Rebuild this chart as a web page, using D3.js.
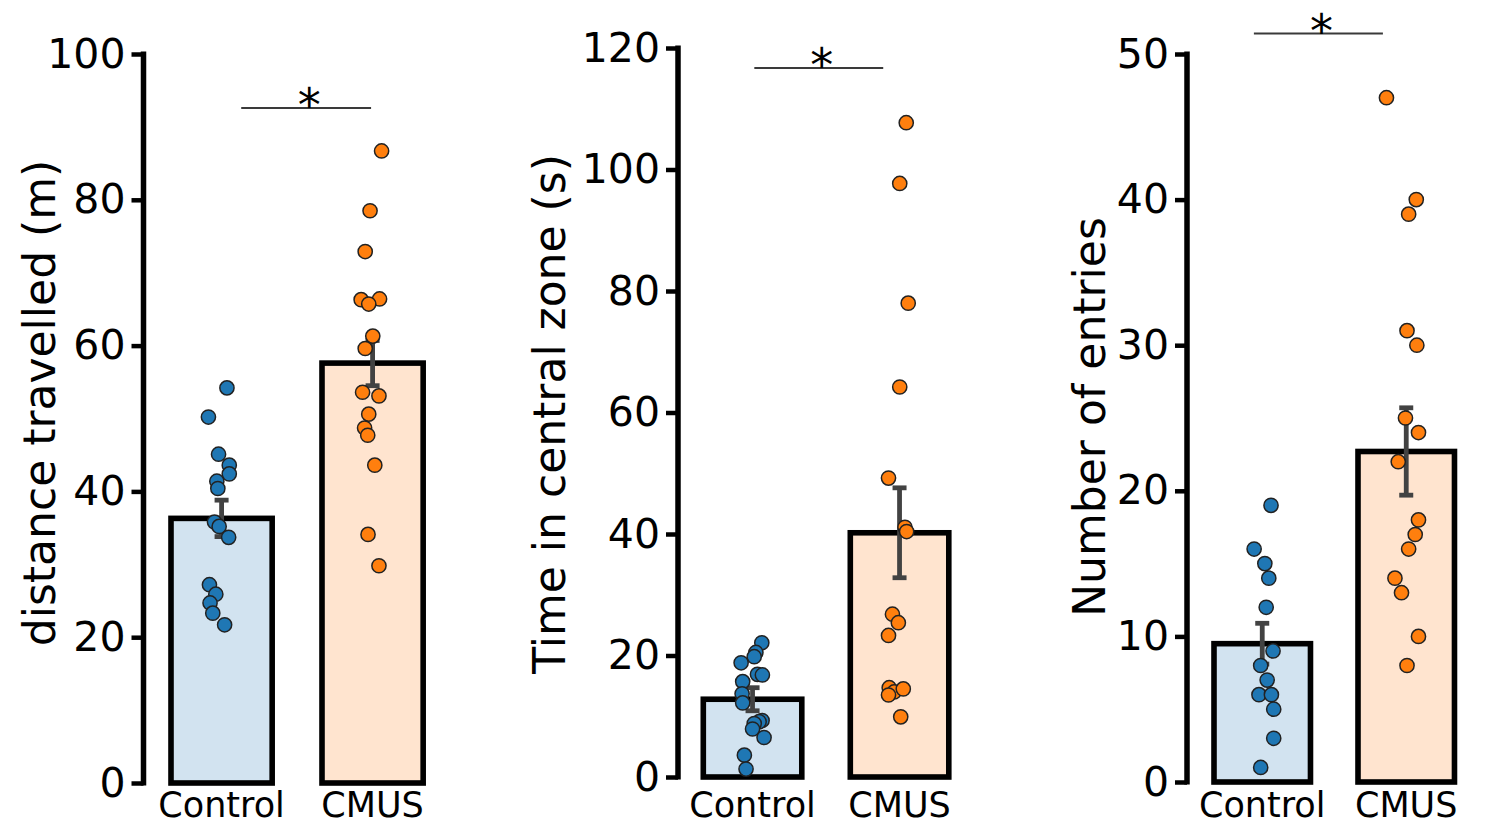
<!DOCTYPE html>
<html>
<head>
<meta charset="utf-8">
<script src="https://cdn.jsdelivr.net/npm/d3@7"></script>
<style>
  html, body { margin: 0; padding: 0; background: #fff; }
  svg text { font-family: "DejaVu Sans", sans-serif; fill: #000; }
</style>
</head>
<body>
<svg id="chart" width="1485" height="826"></svg>
<script>
// ---- data ----
const categories = ["Control", "CMUS"];

// distance travelled (m)
const distanceControl = [54.2, 50.2, 45.1, 43.6, 42.4, 41.4, 40.4, 35.8, 35.2, 33.7, 27.2, 25.9, 24.7, 23.3, 21.7];
const distanceCMUS    = [86.7, 78.5, 72.9, 66.3, 66.4, 65.7, 61.3, 59.6, 53.6, 53.1, 50.6, 48.7, 47.7, 43.6, 34.1, 29.8];
const distanceMean = [36.3, 57.6];
const distanceSem  = [2.5, 3.1];

// time in central zone (s)
const timeControl = [22.1, 20.5, 19.8, 18.8, 16.9, 16.8, 15.7, 13.7, 12.2, 9.3, 9.1, 8.8, 7.9, 6.5, 3.6, 1.3];
const timeCMUS    = [107.7, 97.7, 78.0, 64.2, 49.2, 41.1, 40.4, 26.8, 25.4, 23.3, 14.7, 14.0, 14.5, 13.5, 9.9];
const timeMean = [12.8, 40.2];
const timeSem  = [1.9, 7.4];

// number of entries
const entriesControl = [19, 16, 15, 14, 12, 9, 8, 7, 6, 6, 5, 3, 1];
const entriesCMUS    = [47, 40, 39, 31, 30, 25, 24, 22, 18, 17, 16, 14, 13, 10, 8];
const entriesMean = [9.5, 22.7];
const entriesSem  = [1.4, 3.0];

// y-axis ticks
const distanceTicks = [0, 20, 40, 60, 80, 100];
const timeTicks     = [0, 20, 40, 60, 80, 100, 120];
const entriesTicks  = [0, 10, 20, 30, 40, 50];

// significance bracket heights (data units)
const distanceSig = 92.6;
const timeSig     = 116.7;
const entriesSig  = 51.4;

// horizontal strip jitter, as a fraction of bar width
const distanceJitter = [
  [0.053, -0.13, -0.03, 0.076, 0.076, -0.047, -0.037, -0.07, -0.024, 0.07, -0.12, -0.057, -0.114, -0.087, 0.03],
  [0.089, -0.025, -0.073, -0.113, 0.069, -0.038, 0.002, -0.073, -0.099, 0.063, -0.038, -0.079, -0.048, 0.022, -0.045, 0.063]
];
const timeJitter = [
  [0.094, 0.034, 0.017, -0.116, 0.05, 0.1, -0.1, -0.106, -0.1, 0.097, 0.067, 0.017, 0.0, 0.117, -0.083, -0.066],
  [0.068, 0.002, 0.088, 0.002, -0.112, 0.055, 0.072, -0.072, -0.012, -0.112, -0.105, -0.055, 0.038, -0.112, 0.012]
];
const entriesJitter = [
  [0.091, -0.084, 0.027, 0.068, 0.041, 0.112, -0.016, 0.051, -0.034, 0.095, 0.119, 0.119, -0.016],
  [-0.205, 0.104, 0.025, 0.008, 0.11, -0.008, 0.127, -0.083, 0.127, 0.093, 0.025, -0.117, -0.049, 0.127, 0.008]
];

// ---- styling ----
const pointColors = ["#1f77b4", "#ff7f0e"];
const barFills    = ["#d2e3f0", "#ffe4cf"];
const errColor    = "#424242";

const svg = d3.select("#chart");

const panels = [
  { label: "distance travelled (m)", groups: [distanceControl, distanceCMUS], mean: distanceMean, sem: distanceSem,
    ticks: distanceTicks, max: 100, sig: distanceSig, jitter: distanceJitter,
    axisX: 143.5, y0: 783, y1: 54, step: 151, bandStart: 171, labelX: 55, labelY: 403,
    sigFrom: 0.13, sigTo: 0.99 },
  { label: "Time in central zone (s)", groups: [timeControl, timeCMUS], mean: timeMean, sem: timeSem,
    ticks: timeTicks, max: 120, sig: timeSig, jitter: timeJitter,
    axisX: 678, y0: 777, y1: 48, step: 147, bandStart: 703.3, labelX: 565, labelY: 414,
    sigFrom: 0.012, sigTo: 0.889 },
  { label: "Number of entries", groups: [entriesControl, entriesCMUS], mean: entriesMean, sem: entriesSem,
    ticks: entriesTicks, max: 50, sig: entriesSig, jitter: entriesJitter,
    axisX: 1187, y0: 782, y1: 54, step: 144, bandStart: 1214, labelX: 1105, labelY: 417,
    sigFrom: -0.058, sigTo: 0.838 }
];

const padInner = 0.33;

panels.forEach(p => {
  const g = svg.append("g");

  // band scale laid out so the first band starts at bandStart with the given step
  const padOuter = (p.bandStart - p.axisX) / p.step;
  const rangeEnd = p.axisX + p.step * (categories.length - padInner + 2 * padOuter);
  const x = d3.scaleBand().domain(categories).range([p.axisX, rangeEnd])
    .paddingInner(padInner).paddingOuter(padOuter);
  const y = d3.scaleLinear().domain([0, p.max]).range([p.y0, p.y1]);
  const bw = x.bandwidth();
  const cx = c => x(c) + bw / 2;

  // bars
  g.selectAll("rect.bar").data(categories).join("rect")
    .attr("class", "bar")
    .attr("x", c => x(c))
    .attr("width", bw)
    .attr("y", (c, i) => y(p.mean[i]))
    .attr("height", (c, i) => y(0) - y(p.mean[i]))
    .attr("fill", (c, i) => barFills[i])
    .attr("stroke", "#000")
    .attr("stroke-width", 5.6);

  // error bars (mean ± SEM)
  const cap = 7;
  categories.forEach((c, i) => {
    const lo = y(p.mean[i] - p.sem[i]), hi = y(p.mean[i] + p.sem[i]);
    const eg = g.append("g").attr("stroke", errColor).attr("stroke-width", 4.8);
    eg.append("line").attr("x1", cx(c)).attr("x2", cx(c)).attr("y1", lo).attr("y2", hi);
    eg.append("line").attr("x1", cx(c) - cap).attr("x2", cx(c) + cap).attr("y1", lo).attr("y2", lo);
    eg.append("line").attr("x1", cx(c) - cap).attr("x2", cx(c) + cap).attr("y1", hi).attr("y2", hi);
  });

  // individual animals
  categories.forEach((c, i) => {
    g.selectAll(null).data(p.groups[i]).join("circle")
      .attr("cx", (v, k) => cx(c) + p.jitter[i][k] * bw)
      .attr("cy", v => y(v))
      .attr("r", 7.1)
      .attr("fill", pointColors[i])
      .attr("stroke", "#222")
      .attr("stroke-width", 1.5);
  });

  // y axis
  const axis = d3.axisLeft(y).tickValues(p.ticks).tickSize(12).tickPadding(6).tickFormat(d3.format("d"));
  const ag = g.append("g").attr("transform", `translate(${p.axisX},0)`).call(axis);
  ag.select(".domain").attr("stroke", "#000").attr("stroke-width", 5.5)
    .attr("d", `M0,${p.y0 + 2.5}V${p.y1 - 2.5}`);
  ag.selectAll(".tick line").attr("stroke", "#000").attr("stroke-width", 4.5);
  ag.selectAll(".tick text").attr("font-size", 41).attr("fill", "#000")
    .style("font-family", '"DejaVu Sans", sans-serif');

  // category labels
  g.selectAll("text.cat").data(categories).join("text")
    .attr("class", "cat")
    .attr("x", c => cx(c))
    .attr("y", 817)
    .attr("text-anchor", "middle")
    .attr("font-size", 35)
    .text(c => c);

  // axis title
  g.append("text")
    .attr("transform", `translate(${p.labelX},${p.labelY}) rotate(-90)`)
    .attr("text-anchor", "middle")
    .attr("font-size", 44)
    .text(p.label);

  // significance bracket
  const sx1 = cx(categories[0]) + p.sigFrom * p.step;
  const sx2 = cx(categories[0]) + p.sigTo * p.step;
  g.append("line")
    .attr("x1", sx1).attr("x2", sx2)
    .attr("y1", y(p.sig)).attr("y2", y(p.sig))
    .attr("stroke", "#3a3a3a").attr("stroke-width", 2);
  g.append("text")
    .attr("x", (sx1 + sx2) / 2 + 3)
    .attr("y", y(p.sig) + 13)
    .attr("text-anchor", "middle")
    .attr("font-size", 46)
    .text("*");
});
</script>
</body>
</html>
